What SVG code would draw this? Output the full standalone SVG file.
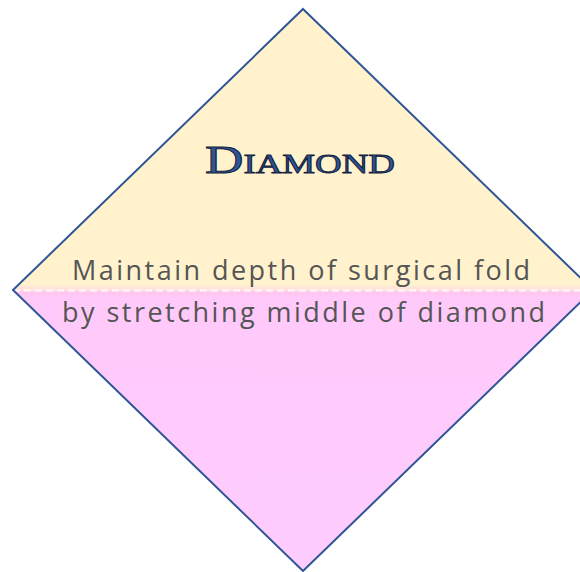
<svg xmlns="http://www.w3.org/2000/svg" width="580" height="572" viewBox="0 0 580 572">
<style>
.body{font-family:"Open Sans","Liberation Sans",sans-serif;font-size:27px;fill:#555555;text-anchor:middle}
.title{font-family:"Liberation Serif","DejaVu Serif",serif;font-variant:small-caps;font-size:39px;fill:#2F5597;stroke:#14213D;stroke-width:0.9;text-anchor:middle}
</style>
<defs>
<linearGradient id="fillg" gradientUnits="userSpaceOnUse" x1="0" y1="0" x2="0" y2="572">
<stop offset="0" stop-color="#FFF2CC"/>
<stop offset="0.498" stop-color="#FFF2CC"/>
<stop offset="0.502" stop-color="#FFE6D8"/>
<stop offset="0.507" stop-color="#FFE2DE"/>
<stop offset="0.511" stop-color="#FFC6EE"/>
<stop offset="0.52" stop-color="#FFCAFA"/>
<stop offset="1" stop-color="#FFCCFF"/>
</linearGradient>
<clipPath id="dclip"><polygon points="303,9 593,290 303,571 13,290"/></clipPath>
</defs>
<g id="diamond">
<polygon points="303,9 593,290 303,571 13,290" fill="url(#fillg)"/>
<line x1="13" y1="290.5" x2="593" y2="290.5" stroke="#FFFFFF" stroke-opacity="0.8" stroke-width="2" stroke-dasharray="7,4" clip-path="url(#dclip)"/>
<polygon points="303,9 593,290 303,571 13,290" fill="none" stroke="#2F5597" stroke-width="2"/>
<text class="title" x="300" y="173" textLength="190" lengthAdjust="spacingAndGlyphs">Diamond</text>
<text class="body" x="301" y="280" textLength="458" lengthAdjust="spacing">Maintain depth of surgical fold</text>
<text class="body" x="303.5" y="322" textLength="483" lengthAdjust="spacing">by stretching middle of diamond</text>
</g>
</svg>
